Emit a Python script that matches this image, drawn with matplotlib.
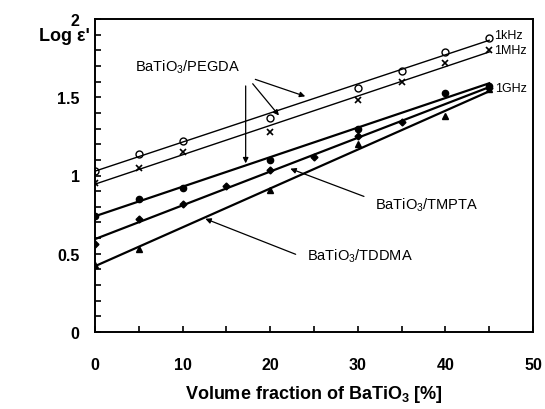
import numpy as np
import matplotlib
matplotlib.use('Agg')
import matplotlib.pyplot as plt
from matplotlib.ticker import MultipleLocator

plt.rcParams['font.family'] = ['Liberation Sans', 'DejaVu Sans']
plt.rcParams['mathtext.fontset'] = 'custom'
plt.rcParams['mathtext.rm'] = 'Liberation Sans'
plt.rcParams['mathtext.bf'] = 'Liberation Sans:bold'

# PEGDA 1kHz (open circles)
x_khz = [0, 5, 10, 20, 30, 35, 40, 45]
y_khz = [1.03, 1.14, 1.22, 1.37, 1.56, 1.67, 1.79, 1.88]
# PEGDA 1MHz (crosses)
x_mhz = [0, 5, 10, 20, 30, 35, 40, 45]
y_mhz = [0.95, 1.05, 1.15, 1.28, 1.48, 1.60, 1.72, 1.80]
# PEGDA 1GHz (filled circles)
x_peg = [0, 5, 10, 20, 30, 40, 45]
y_peg = [0.74, 0.85, 0.92, 1.10, 1.30, 1.53, 1.57]
# TMPTA 1GHz (diamonds)
x_tmp = [0, 5, 10, 15, 20, 25, 30, 35, 45]
y_tmp = [0.56, 0.72, 0.82, 0.93, 1.035, 1.12, 1.25, 1.34, 1.56]
# TDDMA 1GHz (triangles)
x_tdd = [0, 5, 20, 30, 40, 45]
y_tdd = [0.43, 0.53, 0.91, 1.20, 1.38, 1.55]

freq_labels = ['1kHz', '1MHz', '1GHz']

fig = plt.figure(figsize=(5.45, 4.1), dpi=100)
ax = fig.add_axes([95/545, 77/410, 438/545, 313/410])

series = [
    (x_khz, y_khz, dict(marker='o', mfc='white', ms=5), 1.0),
    (x_mhz, y_mhz, dict(marker='x', ms=5, mew=1.2), 1.0),
    (x_peg, y_peg, dict(marker='o', mfc='black', ms=4.5), 1.6),
    (x_tmp, y_tmp, dict(marker='D', mfc='black', ms=3.5), 1.6),
    (x_tdd, y_tdd, dict(marker='^', mfc='black', ms=4.5), 1.6),
]
xfit = np.array([0, 45])
for xs, ys, mk, lw in series:
    ax.plot(xs, ys, ls='none', color='black', mec='black', **mk)
    k, b = np.polyfit(xs, ys, 1)   # straight fit line through each set
    ax.plot(xfit, k * xfit + b, color='black', lw=lw)

ax.set_xlim(0, 50)
ax.set_ylim(0, 2)
ax.xaxis.set_major_locator(MultipleLocator(10))
ax.xaxis.set_minor_locator(MultipleLocator(5))
ax.yaxis.set_minor_locator(MultipleLocator(0.1))
ax.set_yticks([0, 0.5, 1, 1.5, 2])
ax.set_yticklabels(['0', '0.5', '1', '1.5', '2'])
ax.tick_params(which='both', direction='in', top=False, right=False,
               labelsize=11.5, width=1.2)
ax.tick_params(axis='x', which='both', pad=18, length=4)
ax.tick_params(axis='y', which='both', pad=11, length=4)
for t in ax.get_xticklabels() + ax.get_yticklabels():
    t.set_fontweight('bold')
for s in ax.spines.values():
    s.set_linewidth(1.4)

ax.set_xlabel(r'Volume fraction of BaTiO$_\mathbf{3}$ [%]', fontsize=13,
              fontweight='bold', labelpad=8)
fig.text(0.119, 0.912, "Log ε'", fontsize=13, fontweight='bold',
         ha='center', va='center')

# frequency labels
ax.text(45.5, 1.90, freq_labels[0], fontsize=9, va='center')
ax.text(45.5, 1.80, freq_labels[1], fontsize=9, va='center')
ax.text(45.7, 1.56, freq_labels[2], fontsize=9, va='center')

arw = dict(arrowstyle='-|>', color='black', lw=0.9, mutation_scale=8)
ax.text(4.6, 1.70, r'BaTiO$_3$/PEGDA', fontsize=10.5, va='center')
ax.annotate('', xy=(24.3, 1.50), xytext=(18.0, 1.62), arrowprops=arw)
ax.annotate('', xy=(21.2, 1.37), xytext=(17.8, 1.60), arrowprops=arw)
ax.annotate('', xy=(17.2, 1.06), xytext=(17.2, 1.59), arrowprops=arw)

ax.text(32.0, 0.82, r'BaTiO$_3$/TMPTA', fontsize=10.5, va='center')
ax.annotate('', xy=(22.0, 1.05), xytext=(31.0, 0.86), arrowprops=arw)

ax.text(24.2, 0.49, r'BaTiO$_3$/TDDMA', fontsize=10.5, va='center')
ax.annotate('', xy=(12.3, 0.73), xytext=(23.2, 0.49), arrowprops=arw)

fig.savefig('out.png', dpi=100)
